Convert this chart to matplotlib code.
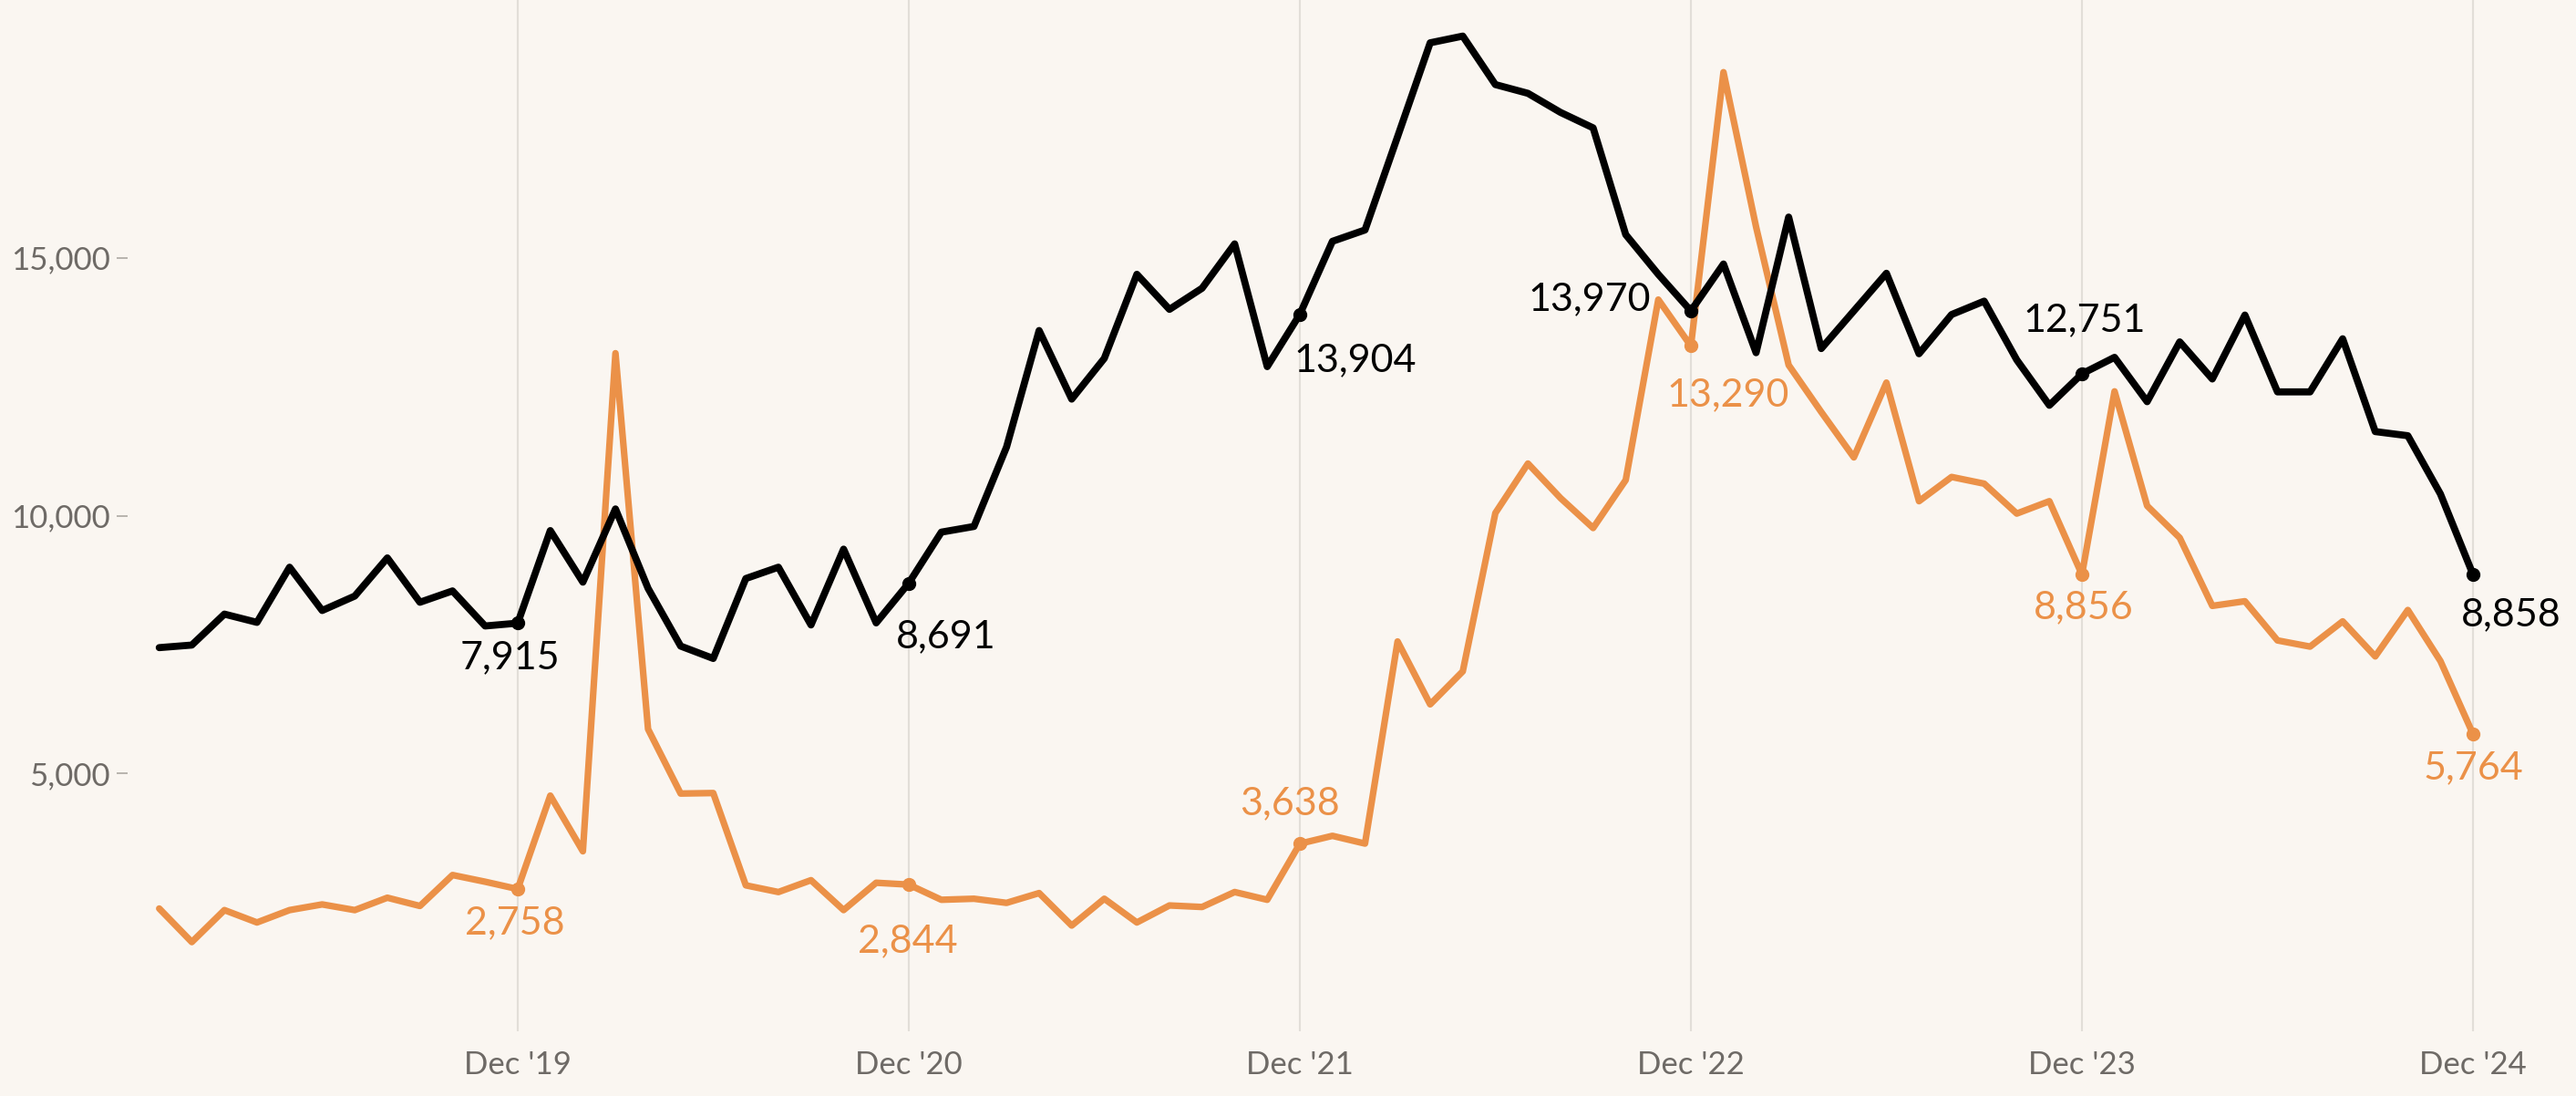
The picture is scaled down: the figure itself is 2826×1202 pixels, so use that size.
import matplotlib
matplotlib.use("Agg")
import matplotlib.pyplot as plt
from matplotlib.ticker import FuncFormatter

plt.rcParams['font.family'] = ['Lato', 'DejaVu Sans']

# monthly values, Jan 2019 .. Dec 2024
black = [7440, 7490, 8090, 7930, 9000, 8160, 8440, 9180, 8320, 8540, 7860, 7915,
         9710, 8710, 10130, 8590, 7470, 7230, 8780, 9000, 7880, 9350, 7920, 8691,
         9680, 9790, 11330, 13590, 12260, 13050, 14680, 14000, 14410, 15270, 12890, 13904,
         15320, 15540, 17350, 19170, 19300, 18360, 18190, 17820, 17520, 15450, 14680, 13970,
         14880, 13160, 15790, 13240, 13970, 14700, 13140, 13900, 14160, 13020, 12140, 12751,
         13070, 12210, 13370, 12650, 13890, 12400, 12400, 13430, 11630, 11550, 10420, 8858]

orange = [2380, 1730, 2350, 2110, 2350, 2460, 2350, 2590, 2430, 3030, 2900, 2758,
          4570, 3490, 13150, 5860, 4610, 4620, 2830, 2700, 2930, 2350, 2880, 2844,
          2550, 2570, 2490, 2680, 2050, 2570, 2110, 2440, 2410, 2700, 2550, 3638,
          3790, 3640, 7560, 6340, 6980, 10050, 11010, 10340, 9760, 10690, 14190, 13290,
          18600, 15600, 12920, 12010, 11130, 12580, 10280, 10750, 10620, 10040, 10280, 8856,
          12410, 10190, 9570, 8250, 8340, 7580, 7460, 7950, 7270, 8170, 7180, 5764]

dec_idx = [11, 23, 35, 47, 59, 71]
dec_labels = ["Dec '19", "Dec '20", "Dec '21", "Dec '22", "Dec '23", "Dec '24"]
y_ticks = [5000, 10000, 15000]

# label offsets (points) for the december call-outs
black_off = [(-6, -27), (29, -42), (44, -36), (-80, 9), (2, 42), (30, -32)]
orange_off = [(-2, -27), (-1, -45), (-8, 32), (29, -39), (1, -26), (0, -27)]

bg = "#FAF6F1"
org = "#EB9148"
blk = "#000000"
grey = "#6E6A66"

fig = plt.figure(figsize=(28.26, 12.02), dpi=100, facecolor=bg)
ax = fig.add_axes([140/2826, 71/1202, 1 - 140/2826, 1131/1202])
ax.set_facecolor(bg)

x = list(range(len(black)))
ax.plot(x, orange, color=org, lw=5.2, solid_joinstyle="round", solid_capstyle="round", zorder=3)
ax.plot(x, black, color=blk, lw=5.6, solid_joinstyle="round", solid_capstyle="round", zorder=4)

for k, i in enumerate(dec_idx):
    ax.plot(i, orange[i], "o", color=org, ms=10, zorder=5)
    ax.plot(i, black[i], "o", color=blk, ms=10, zorder=6)
    ax.annotate(f"{orange[i]:,}", (i, orange[i]), xytext=orange_off[k], textcoords="offset points",
                ha="center", va="center", fontsize=31, color=org, zorder=7)
    ax.annotate(f"{black[i]:,}", (i, black[i]), xytext=black_off[k], textcoords="offset points",
                ha="center", va="center", fontsize=31, color=blk, zorder=7)

ax.set_xlim(-0.97, 74.16)
ax.set_ylim(0, 20000)
ax.set_xticks(dec_idx)
ax.set_xticklabels(dec_labels)
ax.set_yticks(y_ticks)
ax.yaxis.set_major_formatter(FuncFormatter(lambda v, p: f"{int(v):,}"))
ax.grid(axis="x", color="#E2DED8", lw=1.5)
ax.tick_params(axis="x", length=0, pad=15, labelsize=25, labelcolor=grey)
ax.tick_params(axis="y", length=9, width=1.4, color="#B8B4AE", pad=5, labelsize=25, labelcolor=grey)
for s in ax.spines.values():
    s.set_visible(False)

fig.savefig("out.png", dpi=100, facecolor=bg)
